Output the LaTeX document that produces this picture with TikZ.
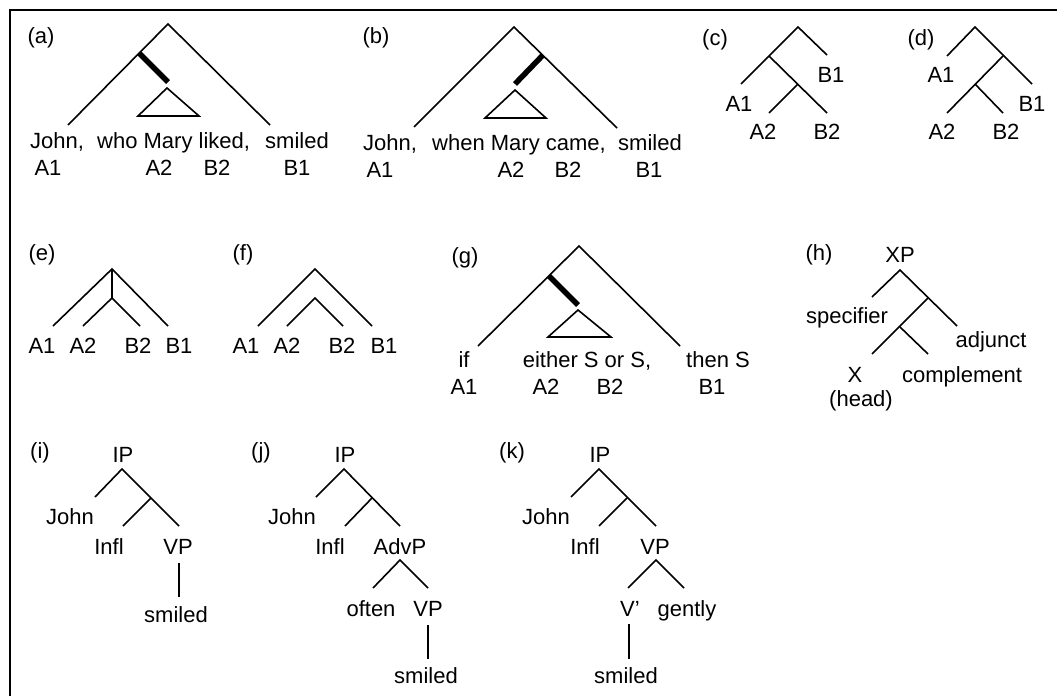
\documentclass[tikz,border=0pt]{standalone}
\usepackage{fontspec}
\setmainfont{Liberation Sans}
\begin{document}
\begin{tikzpicture}[x=1pt,y=-1pt,
  br/.style={line width=1.6pt},
  thickbar/.style={line width=5.5pt},
  frameline/.style={line width=2.5pt},
  txt/.style={inner sep=0pt, anchor=base, font=\fontsize{22}{26}\selectfont},
  tag/.style={inner sep=0pt, anchor=center, font=\fontsize{22}{26}\selectfont}]
\useasboundingbox (0,0) rectangle (1057,696);
% frame
\coordinate (fb) at (10,696); \coordinate (fc) at (10,10); \coordinate (fr) at (1057,10);
\draw[frameline] (fb) -- (fc) -- (fr);

% ---------- (a)
\node[tag] (la) at (41,38) {(a)};
\coordinate (aT) at (168,24); \coordinate (aL) at (68,125); \coordinate (aR) at (270,125);
\draw[br] (aL) -- (aT) -- (aR);
\coordinate (aB1) at (139,53); \coordinate (aB2) at (168,82);
\draw[thickbar] (aB1) -- (aB2);
\coordinate (aTa) at (167,88); \coordinate (aTb) at (138,116); \coordinate (aTc) at (199,116);
\draw[br] (aTa) -- (aTb) -- (aTc) -- cycle;
\node[txt,anchor=base west] (aw1) at (30,148) {John,};
\node[txt,anchor=base west] (aw2) at (97,148) {who Mary liked,};
\node[txt,anchor=base west] (aw3) at (265,148) {smiled};
\node[txt] (aA1) at (48,175) {A1};
\node[txt] (aA2) at (159,175) {A2};
\node[txt] (aB2n) at (217,175) {B2};
\node[txt] (aB1n) at (297,175) {B1};

% ---------- (b)
\node[tag] (lb) at (376,38) {(b)};
\coordinate (bT) at (514,27); \coordinate (bL) at (414,127); \coordinate (bR) at (617,128);
\draw[br] (bL) -- (bT) -- (bR);
\coordinate (bB1) at (543,55); \coordinate (bB2) at (515,84);
\draw[thickbar] (bB1) -- (bB2);
\coordinate (bTa) at (515,90); \coordinate (bTb) at (485,118); \coordinate (bTc) at (546,118);
\draw[br] (bTa) -- (bTb) -- (bTc) -- cycle;
\node[txt,anchor=base west] (bw1) at (363,150) {John,};
\node[txt,anchor=base west] (bw2) at (432,150) {when Mary came,};
\node[txt,anchor=base west] (bw3) at (618,150) {smiled};
\node[txt] (bA1) at (380,177) {A1};
\node[txt] (bA2) at (511,177) {A2};
\node[txt] (bB2n) at (568,177) {B2};
\node[txt] (bB1n) at (649,177) {B1};

% ---------- (c)
\node[tag] (lc) at (715,40) {(c)};
\coordinate (cT) at (798,27); \coordinate (cR) at (827,55); \coordinate (cL) at (741,84);
\coordinate (cN) at (769,56); \coordinate (cNR) at (827,113);
\coordinate (cM) at (798,84); \coordinate (cML) at (769,113);
\draw[br] (cL) -- (cT) -- (cR);
\draw[br] (cN) -- (cNR);
\draw[br] (cM) -- (cML);
\node[txt] (cB1) at (831,82) {B1};
\node[txt] (cA1) at (739,111) {A1};
\node[txt] (cA2) at (763,139) {A2};
\node[txt] (cB2) at (827,139) {B2};

% ---------- (d)
\node[tag] (ld) at (921,40) {(d)};
\coordinate (dT) at (975,27); \coordinate (dL) at (947,56); \coordinate (dR) at (1032,84);
\coordinate (dN) at (1003,56); \coordinate (dNL) at (947,113);
\coordinate (dM) at (975,84); \coordinate (dMR) at (1003,113);
\draw[br] (dL) -- (dT) -- (dR);
\draw[br] (dN) -- (dNL);
\draw[br] (dM) -- (dMR);
\node[txt] (dA1) at (941,82) {A1};
\node[txt] (dB1) at (1032,111) {B1};
\node[txt] (dA2) at (942,139) {A2};
\node[txt] (dB2) at (1006,139) {B2};

% ---------- (e)
\node[tag] (le) at (42,255) {(e)};
\coordinate (eT) at (112,269); \coordinate (eL) at (53,326); \coordinate (eR) at (168,326);
\coordinate (eM) at (112,298); \coordinate (eML) at (83,326); \coordinate (eMR) at (140,326);
\draw[br] (eL) -- (eT) -- (eR);
\draw[br] (eT) -- (eM);
\draw[br] (eML) -- (eM) -- (eMR);
\node[txt] (eA1) at (42,353) {A1};
\node[txt] (eA2) at (83,353) {A2};
\node[txt] (eB2) at (138,353) {B2};
\node[txt] (eB1) at (179,353) {B1};

% ---------- (f)
\node[tag] (lf) at (243,255) {(f)};
\coordinate (fT) at (315,269); \coordinate (fL) at (258,326); \coordinate (fR) at (372,326);
\coordinate (fM) at (315,298); \coordinate (fML) at (287,326); \coordinate (fMR) at (343,326);
\draw[br] (fL) -- (fT) -- (fR);
\draw[br] (fML) -- (fM) -- (fMR);
\node[txt] (fA1) at (246,353) {A1};
\node[txt] (fA2) at (287,353) {A2};
\node[txt] (fB2) at (342,353) {B2};
\node[txt] (fB1) at (384,353) {B1};

% ---------- (g)
\node[tag] (lg) at (465,258) {(g)};
\coordinate (gT) at (579,246); \coordinate (gL) at (478,346); \coordinate (gR) at (680,346);
\draw[br] (gL) -- (gT) -- (gR);
\coordinate (gB1) at (549,276); \coordinate (gB2) at (578,305);
\draw[thickbar] (gB1) -- (gB2);
\coordinate (gTa) at (578,310); \coordinate (gTb) at (548,337); \coordinate (gTc) at (611,337);
\draw[br] (gTa) -- (gTb) -- (gTc) -- cycle;
\node[txt] (gw1) at (464,367) {if};
\node[txt] (gw2) at (587,367) {either S or S,};
\node[txt] (gw3) at (718,367) {then S};
\node[txt] (gA1) at (464,394) {A1};
\node[txt] (gA2) at (546,394) {A2};
\node[txt] (gB2) at (610,394) {B2};
\node[txt] (gB1) at (712,394) {B1};

% ---------- (h)
\node[tag] (lh) at (819,255) {(h)};
\node[txt] (hXP) at (900,262) {XP};
\coordinate (hT) at (900,270); \coordinate (hL) at (872,297); \coordinate (hR) at (957,326);
\coordinate (hN) at (928,298); \coordinate (hNL) at (872,354);
\coordinate (hM) at (900,327); \coordinate (hMR) at (928,354);
\draw[br] (hL) -- (hT) -- (hR);
\draw[br] (hN) -- (hNL);
\draw[br] (hM) -- (hMR);
\node[txt] (hspec) at (847,323) {specifier};
\node[txt] (hadj) at (991,347) {adjunct};
\node[txt] (hX) at (855,382) {X};
\node[txt] (hcomp) at (962,382) {complement};
\node[txt] (hhead) at (861,406) {(head)};

% ---------- (i)
\node[tag] (li) at (40,453) {(i)};
\node[txt] (iIP) at (123,462) {IP};
\coordinate (iT) at (122,469); \coordinate (iL) at (95,497); \coordinate (iR) at (179,526);
\coordinate (iN) at (151,498); \coordinate (iNL) at (123,526);
\draw[br] (iL) -- (iT) -- (iR);
\draw[br] (iN) -- (iNL);
\node[txt] (iJohn) at (70,524) {John};
\node[txt] (iInfl) at (109,554) {Infl};
\node[txt] (iVP) at (178,554) {VP};
\node[txt] (ism) at (176,622) {smiled};
\coordinate (iV1) at (179,563); \coordinate (iV2) at (179,597);
\draw[br] (iV1) -- (iV2);

% ---------- (j)
\node[tag] (lj) at (261,453) {(j)};
\node[txt] (jIP) at (345,462) {IP};
\coordinate (jT) at (344,469); \coordinate (jL) at (316,497); \coordinate (jR) at (400,526);
\coordinate (jN) at (372,498); \coordinate (jNL) at (345,526);
\draw[br] (jL) -- (jT) -- (jR);
\draw[br] (jN) -- (jNL);
\node[txt] (jJohn) at (292,524) {John};
\node[txt] (jInfl) at (330,554) {Infl};
\node[txt] (jAdv) at (400,554) {AdvP};
\coordinate (jA) at (400,560); \coordinate (jAL) at (373,588); \coordinate (jAR) at (428,588);
\draw[br] (jAL) -- (jA) -- (jAR);
\node[txt] (joft) at (371,616) {often};
\node[txt] (jVP) at (428,616) {VP};
\coordinate (jV1) at (428,625); \coordinate (jV2) at (428,659);
\draw[br] (jV1) -- (jV2);
\node[txt] (jsm) at (426,683) {smiled};

% ---------- (k)
\node[tag] (lk) at (512,453) {(k)};
\node[txt] (kIP) at (600,462) {IP};
\coordinate (kT) at (599,469); \coordinate (kL) at (571,497); \coordinate (kR) at (656,526);
\coordinate (kN) at (627,498); \coordinate (kNL) at (599,526);
\draw[br] (kL) -- (kT) -- (kR);
\draw[br] (kN) -- (kNL);
\node[txt] (kJohn) at (546,524) {John};
\node[txt] (kInfl) at (585,554) {Infl};
\node[txt] (kVP) at (655,554) {VP};
\coordinate (kA) at (656,560); \coordinate (kAL) at (628,588); \coordinate (kAR) at (684,588);
\draw[br] (kAL) -- (kA) -- (kAR);
\node[txt] (kV) at (630,616) {V'};
\node[txt] (kgen) at (687,616) {gently};
\coordinate (kV1) at (629,624); \coordinate (kV2) at (629,659);
\draw[br] (kV1) -- (kV2);
\node[txt] (ksm) at (626,683) {smiled};
\end{tikzpicture}
\end{document}
